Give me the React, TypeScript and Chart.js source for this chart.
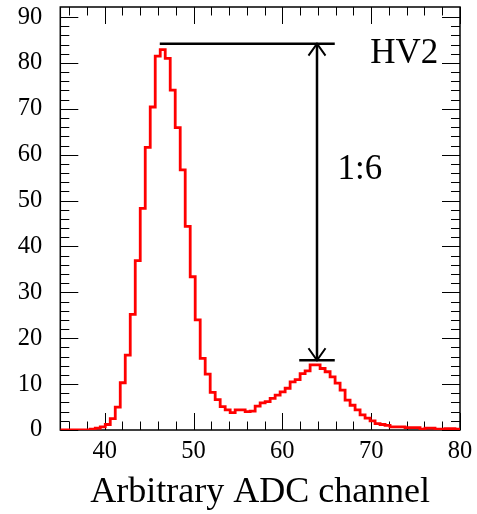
import { useEffect, useRef } from 'react';
import { Chart, registerables } from 'chart.js';

Chart.register(...registerables);

// Histogram binning (80 bins between 35 and 80)
const HIST_MIN = 35;
const HIST_MAX = 80;

// Bin contents
const counts = [
  0, 0, 0, 0, 0, 0, 0.2, 0.4, 0.7, 1.2,
  2.5, 5.0, 10.3, 16.3, 25.2, 36.9, 48.3, 61.6, 70.4, 81.5,
  82.9, 81.0, 74.1, 65.9, 56.7, 44.4, 33.4, 24.0, 15.6, 12.2,
  8.2, 6.6, 5.1, 4.4, 3.8, 4.4, 4.4, 4.0, 4.1, 5.2,
  5.9, 6.2, 6.9, 7.6, 8.3, 9.1, 10.5, 11.0, 12.3, 12.9,
  14.2, 14.2, 13.4, 12.7, 11.6, 10.2, 8.7, 6.5, 5.4, 4.4,
  3.3, 2.6, 2.0, 1.4, 1.2, 1.0, 0.7, 0.7, 0.7, 0.5,
  0.5, 0.5, 0.2, 0.4, 0.4, 0.2, 0.2, 0.3, 0.3, 0.2,
];

// Axes
const Y_MIN = 0;
const Y_MAX = 92.2;
const xMajorTicks = [40, 50, 60, 70, 80];
const xMinorTicks = [36, 38, 42, 44, 46, 48, 52, 54, 56, 58, 62, 64, 66, 68, 72, 74, 76, 78];
const yMajorTicks = [0, 10, 20, 30, 40, 50, 60, 70, 80, 90];
const yMinorTicks = [2, 4, 6, 8, 12, 14, 16, 18, 22, 24, 26, 28, 32, 34, 36, 38, 42, 44, 46, 48,
  52, 54, 56, 58, 62, 64, 66, 68, 72, 74, 76, 78, 82, 84, 86, 88];
const xTitle = 'Arbitrary ADC channel';

// Annotation (ratio marker)
const ratioLevels = [84.2, 15.2];
const ratioLineStarts = [46.2, 61.9];
const ratioLineEnd = 65.9;
const arrowX = 63.9;
const annotationTexts = ['HV2', '1:6'];
const annotationTextX = [69.9, 66.2];
const annotationTextY = [80, 54.7];

const SERIF = '"Liberation Serif", "Times New Roman", serif';

const framePlugin = {
  id: 'rootFrame',
  beforeDatasetsDraw(chart: any) {
    const { ctx, chartArea: a, scales } = chart;
    const x = scales.x;
    const y = scales.y;
    ctx.save();
    ctx.strokeStyle = '#000';
    ctx.lineWidth = 1;
    ctx.beginPath();
    const xt = (v: number, len: number) => {
      const px = Math.round(x.getPixelForValue(v)) + 0.5;
      ctx.moveTo(px, a.bottom);
      ctx.lineTo(px, a.bottom - len);
      ctx.moveTo(px, a.top);
      ctx.lineTo(px, a.top + len);
    };
    const yt = (v: number, len: number) => {
      const py = Math.round(y.getPixelForValue(v)) + 0.5;
      ctx.moveTo(a.left, py);
      ctx.lineTo(a.left + len, py);
      ctx.moveTo(a.right, py);
      ctx.lineTo(a.right - len, py);
    };
    xMajorTicks.forEach((v) => xt(v, 17));
    xMinorTicks.forEach((v) => xt(v, 8.5));
    yMajorTicks.forEach((v) => yt(v, 18));
    yMinorTicks.forEach((v) => yt(v, 9));
    ctx.stroke();
    ctx.lineWidth = 1.5;
    ctx.strokeRect(a.left, a.top, a.right - a.left, a.bottom - a.top);
    ctx.restore();
  },
};

const annotationPlugin = {
  id: 'ratioMarker',
  afterDatasetsDraw(chart: any) {
    const { ctx, scales } = chart;
    const x = scales.x;
    const y = scales.y;
    ctx.save();
    ctx.strokeStyle = '#000';
    ctx.fillStyle = '#000';
    ctx.lineWidth = 2.5;
    ctx.lineCap = 'butt';
    ctx.beginPath();
    ratioLevels.forEach((lvl, i) => {
      const py = y.getPixelForValue(lvl);
      ctx.moveTo(x.getPixelForValue(ratioLineStarts[i]), py);
      ctx.lineTo(x.getPixelForValue(ratioLineEnd), py);
    });
    const ax = x.getPixelForValue(arrowX);
    const yTop = y.getPixelForValue(ratioLevels[0]);
    const yBot = y.getPixelForValue(ratioLevels[1]);
    ctx.moveTo(ax, yTop);
    ctx.lineTo(ax, yBot);
    ctx.stroke();
    ctx.lineWidth = 2;
    ctx.beginPath();
    const hw = 8.5;
    const hl = 12;
    ctx.moveTo(ax - hw, yTop + hl);
    ctx.lineTo(ax, yTop);
    ctx.lineTo(ax + hw, yTop + hl);
    ctx.moveTo(ax - hw, yBot - hl);
    ctx.lineTo(ax, yBot);
    ctx.lineTo(ax + hw, yBot - hl);
    ctx.stroke();
    ctx.font = `35px ${SERIF}`;
    ctx.textAlign = 'left';
    ctx.textBaseline = 'alphabetic';
    annotationTexts.forEach((t, i) => {
      ctx.fillText(t, x.getPixelForValue(annotationTextX[i]), y.getPixelForValue(annotationTextY[i]));
    });
    ctx.restore();
  },
};

export default function App() {
  const canvasRef = useRef<HTMLCanvasElement | null>(null);

  useEffect(() => {
    if (!canvasRef.current) return;
    const binWidth = (HIST_MAX - HIST_MIN) / counts.length;
    const points = counts.map((c, i) => ({ x: HIST_MIN + i * binWidth, y: c }));
    points.push({ x: HIST_MAX, y: counts[counts.length - 1] });

    const chart = new Chart(canvasRef.current, {
      type: 'line',
      data: {
        datasets: [
          {
            data: points,
            stepped: 'before',
            borderColor: '#ff0000',
            borderWidth: 2.8,
            pointRadius: 0,
            fill: false,
          },
        ],
      },
      options: {
        animation: false,
        responsive: false,
        devicePixelRatio: 1,
        layout: { padding: { left: 0, right: 17, top: 7, bottom: 0 } },
        plugins: { legend: { display: false }, tooltip: { enabled: false } },
        scales: {
          x: {
            type: 'linear',
            min: HIST_MIN,
            max: HIST_MAX,
            grid: { display: false, drawTicks: false },
            border: { display: false },
            afterBuildTicks: (s: any) => {
              s.ticks = xMajorTicks.map((v) => ({ value: v }));
            },
            afterFit: (s: any) => {
              s.height = 84;
              s.paddingLeft = 0;
              s.paddingRight = 0;
            },
            ticks: {
              autoSkip: false,
              maxRotation: 0,
              padding: 7,
              color: '#000',
              font: { family: SERIF, size: 24.5 },
            },
            title: {
              display: true,
              text: xTitle,
              color: '#000',
              font: { family: SERIF, size: 36 },
              padding: { top: 0, bottom: 0 },
            },
          },
          y: {
            type: 'linear',
            min: Y_MIN,
            max: Y_MAX,
            grid: { display: false, drawTicks: false },
            border: { display: false },
            afterBuildTicks: (s: any) => {
              s.ticks = yMajorTicks.map((v) => ({ value: v }));
            },
            afterFit: (s: any) => {
              s.width = 60.3;
              s.paddingTop = 0;
              s.paddingBottom = 0;
            },
            ticks: {
              padding: 18,
              color: '#000',
              font: { family: SERIF, size: 24.5 },
            },
          },
        },
      },
      plugins: [framePlugin, annotationPlugin],
    });
    return () => chart.destroy();
  }, []);

  return (
    <div style={{ position: 'fixed', left: 0, top: 0, width: 477, height: 514, background: '#fff' }}>
      <canvas ref={canvasRef} width={477} height={514} style={{ display: 'block' }} />
    </div>
  );
}
